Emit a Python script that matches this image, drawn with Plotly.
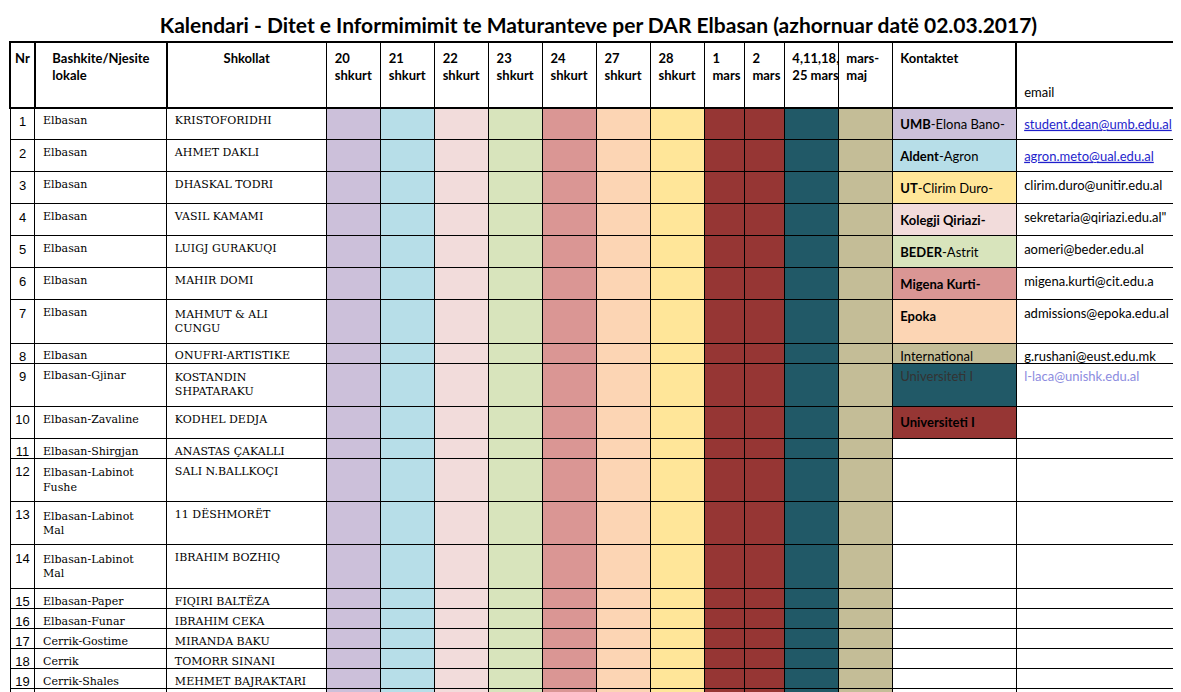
import plotly.graph_objects as go

nr = [str(i) for i in range(1, 30)]
bashkite = ["Elbasan"] * 8 + ["Elbasan-Gjinar", "Elbasan-Zavaline",
    "Elbasan-Shirgjan", "Elbasan-Labinot Fushe", "Elbasan-Labinot Mal", "Elbasan-Labinot Mal",
    "Elbasan-Paper", "Elbasan-Funar", "Cerrik-Gostime", "Cerrik", "Cerrik-Shales",
    "Cerrik-Mollas", "Belsh-Kosove", "Belsh", "Belsh-Grekan", "<b>JOPUBLIKET</b>",
    "Elbasan", "Elbasan", "Elbasan", "Elbasan", "Elbasan"]
shkollat = [
    "KRISTOFORIDHI", "AHMET DAKLI", "DHASKAL TODRI", "VASIL KAMAMI", "LUIGJ GURAKUQI",
    "MAHIR DOMI", "MAHMUT & ALI CUNGU", "ONUFRI-ARTISTIKE", "KOSTANDIN SHPATARAKU",
    "KODHEL DEDJA", "ANASTAS ÇAKALLI", "SALI N.BALLKOÇI", "11 DËSHMORËT", "IBRAHIM BOZHIQ",
    "FIQIRI BALTËZA", "IBRAHIM CEKA", "MIRANDA BAKU", "TOMORR SINANI", "MEHMET BAJRAKTARI",
    "OSMAN GJINI", "KOSOVË", "SAMI FRASHËRI", "DËSHIRAN", "", "LIRIA", "RAHMA SCHOOL",
    "ARIANITI", "INKUS", "NIKOLLA KOPERNIKU"]

date_headers = ["<b>20<br>shkurt</b>", "<b>21<br>shkurt</b>", "<b>22<br>shkurt</b>",
                "<b>23<br>shkurt</b>", "<b>24<br>shkurt</b>", "<b>27<br>shkurt</b>",
                "<b>28<br>shkurt</b>", "<b>1<br>mars</b>", "<b>2<br>mars</b>",
                "<b>4,11,18,<br>25 mars</b>", "<b>mars-<br>maj</b>"]
date_colors = ["#CCC0DA", "#B7DEE8", "#F2DCDB", "#D8E4BC", "#DA9694", "#FCD5B4",
               "#FFE699", "#963634", "#963634", "#215967", "#C4BD97"]

kontaktet = ["<b>UMB</b>-Elona Bano-", "<b>Aldent</b>-Agron", "<b>UT</b>-Clirim Duro-",
             "<b>Kolegji Qiriazi-</b>", "<b>BEDER</b>-Astrit", "<b>Migena Kurti-</b>",
             "<b>Epoka</b>", "International", "Universiteti I", "<b>Universiteti I</b>"] + [""] * 19
kontakt_colors = ["#CCC0DA", "#B7DEE8", "#FFE699", "#F2DCDB", "#D8E4BC", "#DA9694",
                  "#FCD5B4", "#C4BD97", "#215967", "#963634"] + ["white"] * 19
emails = ["<u>student.dean@umb.edu.al</u>", "<u>agron.meto@ual.edu.al</u>",
          "clirim.duro@unitir.edu.al", "sekretaria@qiriazi.edu.al\"", "aomeri@beder.edu.al",
          "migena.kurti@cit.edu.a", "admissions@epoka.edu.al", "g.rushani@eust.edu.mk",
          "l-laca@unishk.edu.al"] + [""] * 20
email_fc = ["#1F1FCC", "#1F1FCC"] + ["black"] * 6 + ["#8C8CE0"] + ["black"] * 20

n = len(nr)
grey = "#C0C0C0"


def col_fill(c):
    return [grey if i == 23 else c for i in range(n)]


headers = ["<b>Nr</b>", "<b>Bashkite/Njesite<br>lokale</b>", "<b>Shkollat</b>"] + date_headers + \
          ["<b>Kontaktet</b><br> <br> ", " <br> <br>email"]
values = [nr, bashkite, shkollat] + [[""] * n for _ in date_colors] + [kontaktet, emails]
fills = [col_fill("white")] * 3 + [col_fill(c) for c in date_colors] + \
        [[grey if i == 23 else kontakt_colors[i] for i in range(n)], col_fill("white")]
fcolors = [["black"] * n] * 14 + [["black"] * 8 + ["#333333"] + ["black"] * 20, email_fc]
widths = [25, 132, 160, 54, 54, 54, 54, 54, 54, 54, 40, 40, 54, 54, 124, 171]

fig = go.Figure(go.Table(
    columnwidth=widths,
    header=dict(values=headers, height=62, fill_color="white",
                line=dict(color="black", width=1.5),
                font=dict(family="Lato, Liberation Sans", size=13, color="black"),
                align=["center", "center", "center"] + ["left"] * 13),
    cells=dict(values=values, height=20, fill_color=fills,
               line=dict(color="black", width=1),
               font=dict(family=["Liberation Sans"] + ["DejaVu Serif"] * 2 + ["Lato"] * 13,
                         size=[13, 11, 11] + [12] * 11 + [13, 13], color=fcolors),
               align=["center"] + ["left"] * 15),
    domain=dict(x=[0, 1], y=[0, 1]),
))
fig.update_layout(
    width=1181, height=692,
    margin=dict(l=2, r=2, t=34, b=0),
    paper_bgcolor="white",
    title=dict(text="<b>Kalendari - Ditet e Informimimit te Maturanteve per DAR Elbasan (azhornuar datë 02.03.2017)</b>",
               x=0.5, y=0.985, xanchor="center", yanchor="top",
               font=dict(family="Lato, Liberation Sans", size=21, color="black")),
)
fig.write_html("out.html")
